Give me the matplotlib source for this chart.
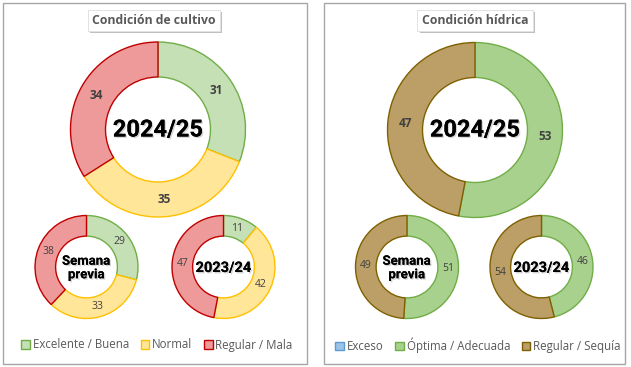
import numpy as np
import matplotlib.pyplot as plt
import matplotlib.patheffects as pe
from matplotlib.patches import Rectangle, Patch

# datos
cultivo_cats = ['Excelente / Buena', 'Normal', 'Regular / Mala']
cultivo_actual = [31, 35, 34]
cultivo_previa = [29, 33, 38]
cultivo_anterior = [11, 42, 47]

hidrica_cats = ['Exceso', 'Óptima / Adecuada', 'Regular / Sequía']
hidrica_actual = [0, 53, 47]
hidrica_previa = [0, 51, 49]
hidrica_anterior = [0, 46, 54]

cultivo_fill = ['#c5e0b4', '#ffe699', '#ee9a9a']
cultivo_edge = ['#70ad47', '#ffc000', '#c00000']
hidrica_fill = ['#9dc3e6', '#a9d18e', '#bb9f66']
hidrica_edge = ['#5b9bd5', '#70ad47', '#7f6000']

W, H = 631, 367
fig = plt.figure(figsize=(W / 100, H / 100), dpi=100)
ax = fig.add_axes([0, 0, 1, 1])

FONT = 'Open Sans'
shadow = [pe.withSimplePatchShadow(offset=(1.0, -1.0), shadow_rgbFace='#aaaaaa', alpha=0.5), pe.Normal()]


def Y(y):
    return H - y


def donut(vals, cx, cy, r, fill, edge, fs, bold, inner=0.6):
    wedges, _ = ax.pie(vals, center=(cx, Y(cy)), radius=r, startangle=90, counterclock=False,
                       colors=fill, wedgeprops=dict(width=r * (1 - inner), linewidth=1.0),
                       normalize=True, frame=True)
    for w, ec in zip(wedges, edge):
        w.set_edgecolor(ec)
    for w, v in zip(wedges, vals):
        if v <= 0:
            continue
        th = np.deg2rad((w.theta1 + w.theta2) / 2)
        rr = r * (1 + inner) / 2
        ax.text(cx + rr * np.cos(th), Y(cy) + rr * np.sin(th), str(v), ha='center', va='center',
                fontsize=fs, color='#404040', family=FONT,
                fontweight='bold' if bold else 'normal')
    return wedges


# izquierda
w1 = donut(cultivo_actual, 158, 129.5, 87.5, cultivo_fill, cultivo_edge, 8.5, True)
donut(cultivo_previa, 86.5, 267, 51.5, cultivo_fill, cultivo_edge, 7.5, False)
donut(cultivo_anterior, 223.5, 267, 51.5, cultivo_fill, cultivo_edge, 7.5, False)

# derecha
donut(hidrica_actual, 475, 130, 87.5, hidrica_fill, hidrica_edge, 8.5, True)
donut(hidrica_previa, 407, 267, 51.5, hidrica_fill, hidrica_edge, 7.5, False)
donut(hidrica_anterior, 541.5, 267, 51.5, hidrica_fill, hidrica_edge, 7.5, False)

ax.set_xlim(0, W)
ax.set_ylim(0, H)
ax.set_aspect('equal')
ax.axis('off')

# marcos
for x0, x1 in [(3, 306.5), (324, 625)]:
    ax.add_patch(Rectangle((x0, Y(363.5)), x1 - x0, 360.5, fill=False, ec='#a6a6a6', lw=1.0))

# titulos
for tx, title in [(154, 'Condición de cultivo'), (475, 'Condición hídrica')]:
    t = ax.text(tx, Y(20.5), title, ha='center', va='center', fontsize=8.8, color='#595959',
                family=FONT, fontweight='bold',
                bbox=dict(boxstyle='square,pad=0.35', fc='white', ec='#e0e0e0', lw=0.6))
    t.get_bbox_patch().set_path_effects(
        [pe.withSimplePatchShadow(offset=(1.5, -1.5), shadow_rgbFace='#808080', alpha=0.5), pe.Normal()])

# textos centrales
for cx in (158, 475):
    ax.text(cx, Y(130), '2024/25', ha='center', va='center', fontsize=17, fontweight='bold',
            family='Roboto', color='black', path_effects=shadow)
for cx in (86.5, 407):
    ax.text(cx, Y(268), 'Semana\nprevia', ha='center', va='center', fontsize=9.5, fontweight='bold',
            family='Roboto', color='black', linespacing=1.05, path_effects=shadow)
for cx in (223.5, 541.5):
    ax.text(cx, Y(268), '2023/24', ha='center', va='center', fontsize=10.5, fontweight='bold',
            family='Roboto', color='black', path_effects=shadow)

# leyendas
legkw = dict(loc='center', bbox_transform=ax.transData, ncol=3, frameon=False,
             handlelength=0.75, handleheight=0.75, handletextpad=0.25, columnspacing=1.0,
             borderaxespad=0, borderpad=0, prop={'family': FONT, 'size': 8.3})
h1 = [Patch(fc=f, ec=e, lw=1.0) for f, e in zip(cultivo_fill, cultivo_edge)]
leg1 = ax.legend(h1, cultivo_cats, bbox_to_anchor=(157, Y(345)), **legkw)
for t in leg1.get_texts():
    t.set_color('#595959')
ax.add_artist(leg1)

h2 = [Patch(fc=f, ec=e, lw=1.0) for f, e in zip(hidrica_fill, hidrica_edge)]
leg2 = ax.legend(h2, hidrica_cats, bbox_to_anchor=(478, Y(345)), **legkw)
for t in leg2.get_texts():
    t.set_color('#595959')

fig.savefig('out.png', dpi=100, facecolor='white')
